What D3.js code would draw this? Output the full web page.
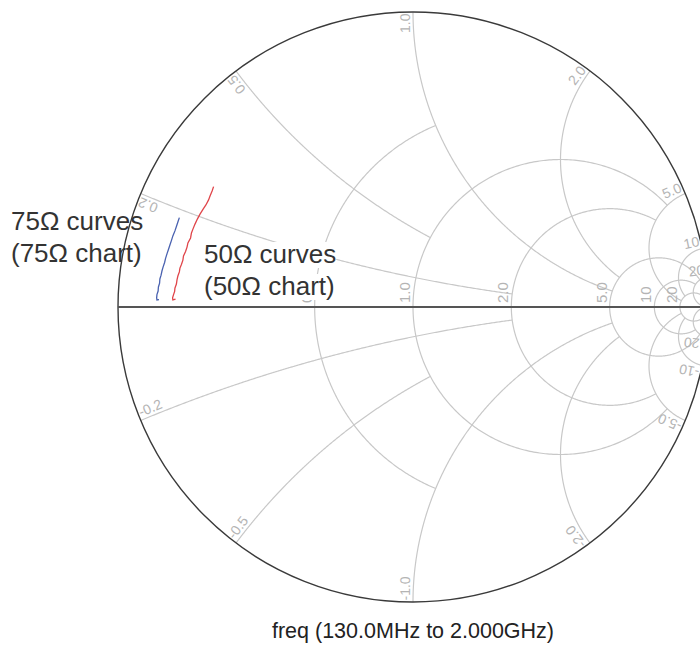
<!DOCTYPE html>
<html>
<head>
<meta charset="utf-8">
<title>Smith chart</title>
<script src="https://d3js.org/d3.v7.min.js"></script>
<style>
  body { margin: 0; background: #fff; }
  text { font-family: "Liberation Sans", Arial, sans-serif; }
</style>
</head>
<body>
<div id="chart"></div>
<script>
// grid values: resistance circles and where each one stops (|x|)
const rTicks = [0.5, 1, 2, 5, 10, 20];
const rStops = [1, 5, 5, 20, 20, Infinity];
// reactance arcs and the resistance at which each one stops
const xTicks = [0.2, 0.5, 1, 2, 5, 10, 20];
const xStops = [2, 1, 5, 5, 20, 20, Infinity];

const s50re = [-0.676, -0.681, -0.688, -0.693, -0.702, -0.712, -0.722, -0.731, -0.739, -0.746, -0.751, -0.754, -0.763, -0.766, -0.771, -0.778, -0.780, -0.785, -0.790, -0.792, -0.797, -0.800, -0.802, -0.807, -0.808, -0.812, -0.815, -0.814, -0.805];
const s50im = [0.408, 0.393, 0.376, 0.363, 0.346, 0.331, 0.315, 0.298, 0.281, 0.264, 0.251, 0.234, 0.217, 0.203, 0.188, 0.173, 0.159, 0.144, 0.132, 0.119, 0.105, 0.092, 0.078, 0.064, 0.053, 0.041, 0.031, 0.024, 0.027];
const s75re = [-0.792, -0.797, -0.802, -0.807, -0.814, -0.819, -0.824, -0.829, -0.834, -0.839, -0.842, -0.847, -0.851, -0.854, -0.858, -0.859, -0.863, -0.864, -0.868, -0.869, -0.868, -0.861];
const s75im = [0.303, 0.288, 0.273, 0.258, 0.241, 0.225, 0.210, 0.195, 0.180, 0.164, 0.151, 0.136, 0.122, 0.108, 0.095, 0.081, 0.068, 0.054, 0.042, 0.031, 0.024, 0.025];

const W = 700, H = 647;
const cx = 413, cy = 307, R = 295;

const sx = d3.scaleLinear().domain([-1, 1]).range([cx - R, cx + R]);
const sy = d3.scaleLinear().domain([-1, 1]).range([cy + R, cy - R]);

// z = r + jx  ->  reflection coefficient
function gamma(r, x) {
  const d = (r + 1) * (r + 1) + x * x;
  return [(r * r + x * x - 1) / d, 2 * x / d];
}
const fmt = v => Math.abs(v) >= 10 ? String(v) : v.toFixed(1);

const svg = d3.select("#chart").append("svg").attr("width", W).attr("height", H);
const line = d3.line().x(d => sx(d[0])).y(d => sy(d[1]));

const grid = svg.append("g").attr("fill", "none").attr("stroke", "#c8c8c8").attr("stroke-width", 1.2);

// constant resistance circles
rTicks.forEach((r, i) => {
  const c = r / (1 + r), rho = 1 / (1 + r);
  let t0 = 0;
  if (isFinite(rStops[i])) {
    const e = gamma(r, rStops[i]);
    t0 = Math.atan2(e[1], e[0] - c);
  }
  const pts = d3.range(0, 361).map(k => {
    const t = t0 + (2 * Math.PI - 2 * t0) * k / 360;
    return [c + rho * Math.cos(t), rho * Math.sin(t)];
  });
  grid.append("path").attr("d", line(pts));
});

// constant reactance arcs
const rimLabels = [];
xTicks.forEach((x, i) => {
  const s = gamma(0, x);
  const e = isFinite(xStops[i]) ? gamma(xStops[i], x) : [1, 0];
  const ang = p => {
    const a = Math.atan2(p[1] - 1 / x, p[0] - 1);
    return a < 0 ? a + 2 * Math.PI : a;
  };
  const a0 = ang(s), a1 = ang(e);
  [1, -1].forEach(sg => {
    const pts = d3.range(0, 301).map(k => {
      const a = a0 + (a1 - a0) * k / 300;
      return [1 + Math.cos(a) / x, sg * (1 / x + Math.sin(a) / x)];
    });
    grid.append("path").attr("d", line(pts));
    rimLabels.push({ v: sg * x, p: pts[0], q: pts[2] });
  });
});

const labels = svg.append("g").attr("fill", "#b4b4b4");

rTicks.forEach(r => {
  const xc = sx(gamma(r, 0)[0]);
  labels.append("text")
    .attr("transform", `translate(${xc - 3},${cy - 4}) rotate(-90)`)
    .attr("font-size", 15)
    .text(fmt(r));
});

rimLabels.forEach(d => {
  const px = sx(d.p[0]), py = sy(d.p[1]);
  const dx = sx(d.q[0]) - px, dy = sy(d.q[1]) - py;
  const n = Math.hypot(dx, dy), ux = dx / n, uy = dy / n;
  const upper = d.v > 0;
  const ang = Math.atan2(upper ? -uy : uy, upper ? -ux : ux) * 180 / Math.PI;
  labels.append("text")
    .attr("transform", `translate(${px + ux * 1.5},${py + uy * 1.5}) rotate(${ang})`)
    .attr("y", -3)
    .attr("text-anchor", upper ? "end" : "start")
    .attr("font-size", 14)
    .text(fmt(d.v));
});

// annotations
const notes = [
  { x: 11, y: 230, t: "75\u03A9 curves" },
  { x: 11, y: 262, t: "(75\u03A9 chart)" },
  { x: 204, y: 263, t: "50\u03A9 curves" },
  { x: 204, y: 295, t: "(50\u03A9 chart)" }
];
const ng = svg.append("g");
notes.forEach(d => {
  const t = ng.append("text").attr("x", d.x).attr("y", d.y)
    .attr("font-size", 26).attr("fill", "#333").text(d.t);
  const b = t.node().getBBox();
  ng.insert("rect", "text").attr("x", b.x).attr("y", b.y + 3)
    .attr("width", b.width).attr("height", b.height - 4).attr("fill", "#fff");
});

// rim and real axis
svg.append("circle").attr("cx", sx(0)).attr("cy", sy(0)).attr("r", sx(1) - sx(0))
  .attr("fill", "none").attr("stroke", "#3a3a3a").attr("stroke-width", 1.4);
svg.append("line").attr("x1", sx(-1)).attr("x2", sx(1)).attr("y1", sy(0)).attr("y2", sy(0))
  .attr("stroke", "#555").attr("stroke-width", 1.8);

// traces
const traces = [
  { re: s75re, im: s75im, color: "#4a62b0" },
  { re: s50re, im: s50im, color: "#e0454a" }
];
traces.forEach(tr => {
  svg.append("path")
    .attr("d", line(tr.re.map((v, i) => [v, tr.im[i]])))
    .attr("fill", "none").attr("stroke", tr.color).attr("stroke-width", 1.3);
});

svg.append("text").attr("x", sx(0)).attr("y", 638).attr("text-anchor", "middle")
  .attr("font-size", 21.5).attr("fill", "#222").text("freq (130.0MHz to 2.000GHz)");
</script>
</body>
</html>
